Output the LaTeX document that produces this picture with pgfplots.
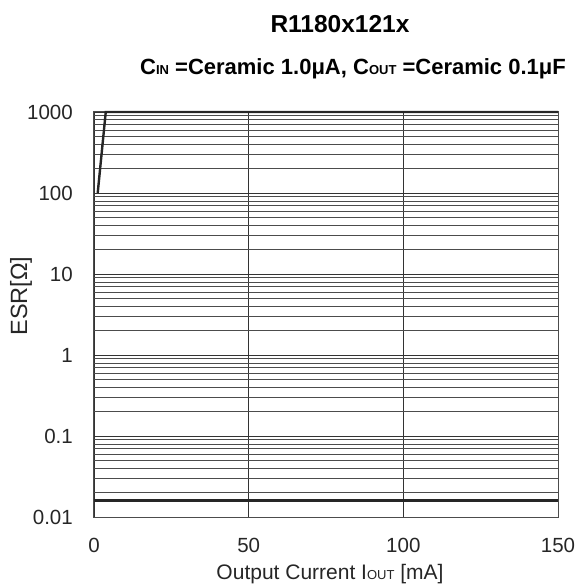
\documentclass[border=0pt]{standalone}
\usepackage{fontspec}
\setmainfont{Liberation Sans}
\usepackage{pgfplots}
\pgfplotsset{compat=1.18}
\newcommand{\sub}[1]{{\fontsize{13}{13}\selectfont #1}}
\begin{document}
\begin{tikzpicture}
\begin{semilogyaxis}[
    scale only axis,
    width=464pt, height=405pt,
    at={(0,0)}, anchor=south west,
    xmin=0, xmax=150,
    ymin=0.01, ymax=1000,
    xtick={0,50,100,150},
    xticklabels={0,50,100,150},
    ytick={0.01,0.1,1,10,100,1000},
    yticklabels={0.01,0.1,1,10,100,1000},
    major tick length=0pt, minor tick length=0pt,
    xmajorgrids, ymajorgrids, yminorgrids,
    major grid style={black!80, line width=0.7pt},
    minor grid style={black!70, line width=0.7pt},
    axis line style={black!70, line width=1pt},
    ticklabel style={font=\fontsize{20.5}{20.5}\selectfont, inner sep=0pt, text=black!85},
    xticklabel style={anchor=north, yshift=-21pt},
    yticklabel style={anchor=east, xshift=-21pt},
    clip=false,
]
% ESR limits: upper boundary and lower boundary
\addplot[black!85, line width=2.4pt] coordinates {(1.2,100) (3.8,1000) (150,1000)};
\addplot[black!85, line width=2.4pt] coordinates {(0,0.016) (150,0.016)};
\end{semilogyaxis}
\node[anchor=base, font=\bfseries\fontsize{24.5}{25}\selectfont] at (246pt,484pt) {R1180x121x};
\node[anchor=base, font=\bfseries\fontsize{22}{22}\selectfont] at (259pt,442pt)
  {C\sub{\bfseries IN} =Ceramic 1.0μA, C\sub{\bfseries OUT} =Ceramic 0.1μF};
\node[anchor=base, font=\fontsize{21}{21}\selectfont, text=black!85] at (236pt,-62pt)
  {Output Current I\sub{OUT} [mA]};
\node[rotate=90, font=\fontsize{23.5}{23.5}\selectfont, text=black!85] at (-73pt,221pt) {ESR[Ω]};
\useasboundingbox (-94pt,-70pt) rectangle (483pt,517pt);
\end{tikzpicture}
\end{document}
